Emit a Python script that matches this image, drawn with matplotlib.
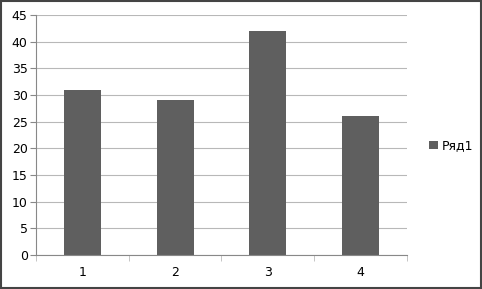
import numpy as np
import matplotlib.pyplot as plt
from matplotlib.patches import Rectangle

categories = ['1', '2', '3', '4']
values = [31, 29, 42, 26]
series_name = 'Ряд1'

fig = plt.figure(figsize=(4.82, 2.89), dpi=100)
ax = fig.add_axes([0.0747, 0.1176, 0.7695, 0.8305])

x = np.arange(len(categories))
ax.bar(x, values, width=0.4, color='#5f5f5f', label=series_name, zorder=2)

ax.set_xlim(-0.5, 3.5)
ax.set_ylim(0, 45)
ax.set_yticks(range(0, 46, 5))
ax.set_xticks(x)
ax.set_xticklabels(categories)
ax.yaxis.grid(True, color='#b8b8b8', linewidth=0.8, zorder=0)
ax.set_axisbelow(True)

for s in ['top', 'right']:
    ax.spines[s].set_visible(False)
ax.spines['left'].set_color('#888888')
ax.spines['bottom'].set_color('#888888')
ax.tick_params(axis='y', length=4, color='#888888', labelsize=9, pad=2)
ax.tick_params(axis='x', length=0, labelsize=9, pad=8)
# minor ticks between categories on x
ax.set_xticks([-0.5, 0.5, 1.5, 2.5, 3.5], minor=True)
ax.tick_params(axis='x', which='minor', length=4, color='#bbbbbb')

ax.legend(loc='center left', bbox_to_anchor=(1.03, 0.455), frameon=False,
          fontsize=9, handlelength=0.7, handleheight=0.7, handletextpad=0.3)

fig.patches.append(Rectangle((0.002, 0.003), 0.995, 0.994, transform=fig.transFigure,
                             fill=False, edgecolor='#444444', linewidth=1.5))

fig.savefig('out.png', dpi=100)
